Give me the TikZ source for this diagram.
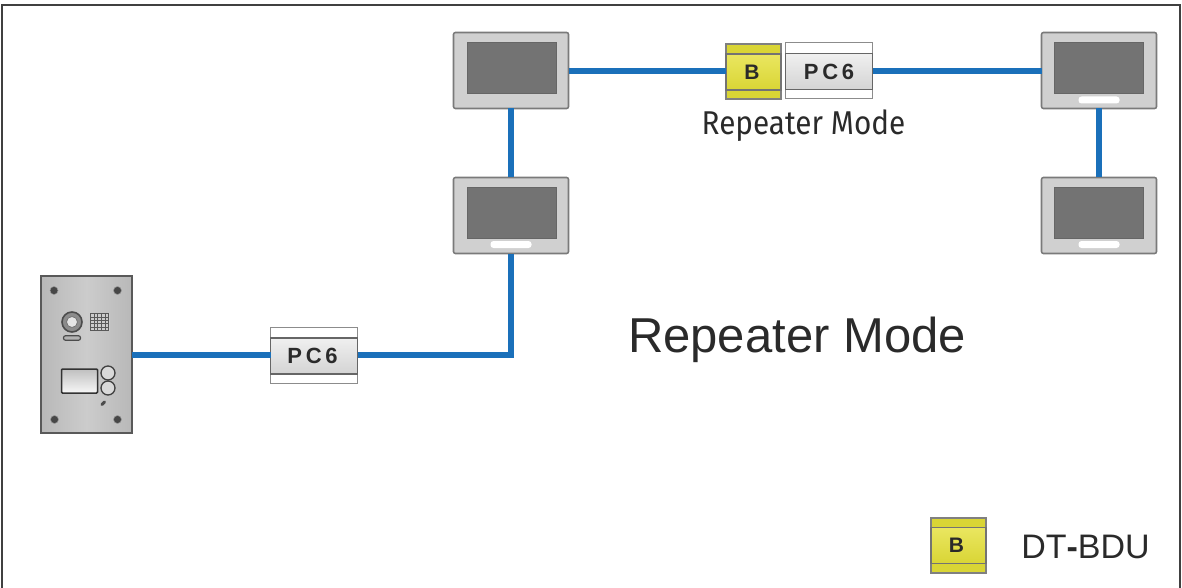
\documentclass[tikz,border=0pt]{standalone}
\usepackage{fontspec}
\setmainfont{Liberation Sans}
\newfontfamily\smallfont{Fira Sans}
\definecolor{wire}{HTML}{1A70BA}
\definecolor{edgegray}{HTML}{7A7A7A}
\definecolor{bezel}{HTML}{D0D0D0}
\definecolor{screen}{HTML}{737373}
\definecolor{ylw}{HTML}{E6E244}
\definecolor{ylwdark}{HTML}{D9D535}
\definecolor{panelgray}{HTML}{B8B8B8}
\definecolor{inkgray}{HTML}{2A2A2A}
\tikzset{
  x=1pt,y=-1pt,
  wireline/.style={draw=wire,line width=5.4pt},
  monbody/.style={draw=edgegray,line width=1.6pt,fill=bezel,rounded corners=2pt,minimum width=115pt,minimum height=76pt,inner sep=0pt,outer sep=0pt},
  monscreen/.style={fill=screen,draw=black!60,line width=.6pt,minimum width=89pt,minimum height=51pt,inner sep=0pt},
  monbar/.style={fill=white,rounded corners=3pt,minimum width=41pt,minimum height=7pt,inner sep=0pt},
  pcbody/.style={draw=black!45,line width=1.2pt,fill=white,minimum width=87pt,minimum height=56pt,inner sep=0pt,outer sep=0pt},
  pcinner/.style={draw=black!60,line width=1.4pt,top color=black!6,bottom color=black!17,minimum width=87pt,minimum height=36pt,inner sep=0pt,font=\fontsize{22}{22}\selectfont\bfseries,text=inkgray},
  bubody/.style={draw=black!50,line width=1.2pt,fill=ylwdark,minimum width=55pt,minimum height=55pt,inner sep=0pt,outer sep=0pt},
  buinner/.style={draw=black!55,line width=1.4pt,top color=ylw!85!white,bottom color=ylwdark,minimum width=55pt,minimum height=36pt,inner sep=0pt,font=\fontsize{21}{21}\selectfont\bfseries,text=inkgray},
  paneldot/.style={circle,fill=black!72,draw=black!40,line width=.5pt,minimum size=8pt,inner sep=0pt},
  ringbtn/.style={circle,draw=black!75,line width=1.3pt,fill=black!15,minimum size=14pt,inner sep=0pt},
  label/.style={inner sep=0pt,text=inkgray},
}
\begin{document}
\begin{tikzpicture}
\useasboundingbox (0,0) rectangle (1182,588);
\draw[black!75,line width=2pt] (2,588) -- (2,5) -- (1180,5) -- (1180,588);

% monitors
\node[monbody] (m1) at (511,70.5) {};
\node[monscreen] (s1) at (511.5,67.5) {};
\node[monbody] (m2) at (511,215.5) {};
\node[monscreen] (s2) at (511.5,212.5) {};
\node[monbar] (b2) at (511,244.5) {};
\node[monbody] (m3) at (1099,70.5) {};
\node[monscreen] (s3) at (1099,67.5) {};
\node[monbar] (b3) at (1099,100) {};
\node[monbody] (m4) at (1099,215.5) {};
\node[monscreen] (s4) at (1099,212.5) {};
\node[monbar] (b4) at (1099,244.5) {};

% door panel
\node[draw=black!65,line width=1.4pt,left color=panelgray,right color=panelgray,middle color=black!20,minimum width=91pt,minimum height=157pt,inner sep=0pt,outer sep=0pt] (panel) at (86.5,354.5) {};
\node[paneldot] (d1) at (54,290.5) {};
\node[paneldot] (d2) at (117.5,290.5) {};
\node[paneldot] (d3) at (54.5,419.5) {};
\node[paneldot] (d4) at (117.5,419.5) {};
\node[circle,draw=black!70,line width=1.6pt,fill=black!45,minimum size=20pt,inner sep=0pt] (cam) at (72,322) {};
\node[circle,fill=black!10,draw=black!55,line width=.8pt,minimum size=11pt,inner sep=0pt] (lens) at (72,322) {};
\node[draw=black!70,line width=1.2pt,fill=black!30,rounded corners=2pt,minimum width=17pt,minimum height=4.5pt,inner sep=0pt] (led) at (72,338) {};
\node[fill=black!20,minimum width=20pt,minimum height=18pt,inner sep=0pt] (grille) at (99.5,322) {};
\foreach \i in {0,...,5}{
  \draw[black!65,line width=.8pt] (90.5+\i*3.6,313) -- (90.5+\i*3.6,331);
  \draw[black!65,line width=.8pt] (90,313.8+\i*3.3) -- (109,313.8+\i*3.3);
}
\node[draw=black!80,line width=1.5pt,top color=black!25,bottom color=black!3,rounded corners=1pt,minimum width=36pt,minimum height=24pt,inner sep=0pt] (namebox) at (79.5,381) {};
\node[ringbtn] (btn1) at (108,373) {};
\node[ringbtn] (btn2) at (108,388) {};
\draw[black!70,line width=3pt,line cap=round] (102,404.5) -- (104.5,402);

% PC6 + B modules
\node[pcbody] (pc1) at (829,70.5) {};
\node[pcinner] (pc1i) at (829,71.5) {P\,C\,6};
\node[bubody] (bu1) at (753.5,71.5) {};
\node[buinner] (bu1i) at (753.5,72) {\kern-3pt B};
\node[pcbody] (pc2) at (314,355.5) {};
\node[pcinner] (pc2i) at (314,356) {\kern-3pt P\,C\,6};
\node[bubody] (bu2) at (958.5,545.5) {};
\node[buinner] (bu2i) at (958.5,545.5) {\kern-4pt B};

% wires
\coordinate (corner) at (511,355);
\draw[wireline] (m1.east |- 0,71) -- (bu1.west |- 0,71);
\draw[wireline] (pc1.east |- 0,71) -- (m3.west |- 0,71);
\draw[wireline] (m1.south) -- (m2.north);
\draw[wireline] (m3.south) -- (m4.north);
\draw[wireline,line join=miter] (pc2.east |- corner) -- (corner) -- (m2.south);
\draw[wireline] (panel.east |- corner) -- (pc2.west |- corner);

% labels
\node[label,font=\smallfont\fontsize{33}{33}\selectfont] (lab1) at (803.5,126) {\scalebox{0.9}[1]{Repeater Mode}};
\node[label,font=\fontsize{49}{49}\selectfont] (lab2) at (797,340) {Repeater Mode};
\node[label,font=\fontsize{34}{34}\selectfont] (lab3) at (1085.5,547) {DT{\bfseries -}BDU};
\end{tikzpicture}
\end{document}
